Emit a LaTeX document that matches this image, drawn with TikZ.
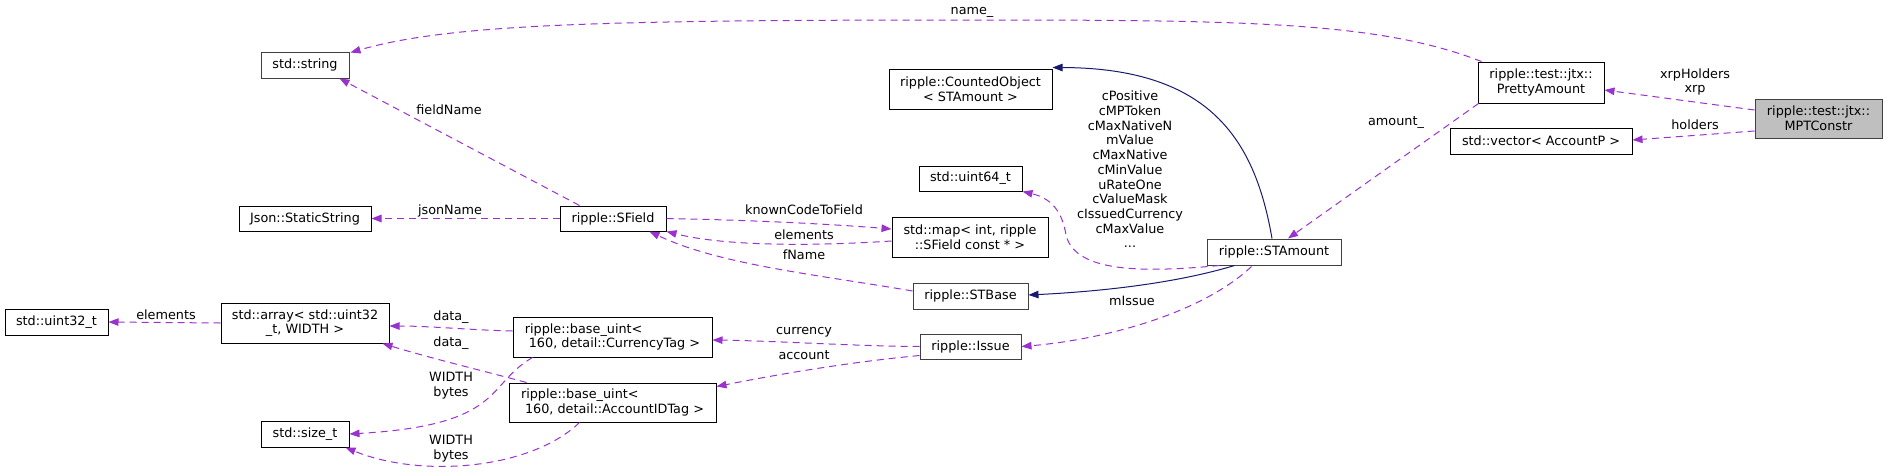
\documentclass[tikz,border=0pt]{standalone}
\usepackage{fontspec}
\setmainfont{DejaVu Sans}
\usetikzlibrary{arrows.meta,calc}
\definecolor{depc}{HTML}{9A32CD}
\definecolor{inhc}{HTML}{191970}
\definecolor{bdc}{HTML}{404040}
\definecolor{mainfill}{HTML}{BFBFBF}
\newcommand\dgfont{\fontsize{12.8}{14.7}\selectfont}
\begin{document}
\begin{tikzpicture}[x=1pt,y=-1pt,
  box/.style={draw=black,line width=1pt,fill=white,inner sep=0pt,align=center,font=\dgfont},
  gbox/.style={box,draw=bdc},
  lbl/.style={inner sep=0pt,align=center,font=\dgfont},
  dep/.style={draw=depc,line width=1pt,dash pattern=on 7pt off 5pt,-{Triangle[length=10pt,width=7.5pt]}},
  inh/.style={draw=inhc,line width=1pt,-{Triangle[length=10pt,width=7.5pt]}}]
\fill[white] (0,0) rectangle (1887,474);
\useasboundingbox (0,0) rectangle (1887,474);
% nodes
\node[gbox,fill=mainfill,minimum width=127,minimum height=39] (mpt) at (1818.5,118.5) {ripple::test::jtx::\\MPTConstr};
\node[box,minimum width=126,minimum height=41] (pretty) at (1541,82.5) {ripple::test::jtx::\\PrettyAmount};
\node[box,minimum width=182,minimum height=26] (vec) at (1541,141) {std::vector< AccountP >};
\node[gbox,minimum width=88,minimum height=26] (str) at (305,65) {std::string};
\node[box,minimum width=163,minimum height=40] (counted) at (970.5,89) {ripple::CountedObject\\< STAmount >};
\node[box,minimum width=103,minimum height=25] (u64) at (970.5,178.5) {std::uint64\_t};
\node[box,minimum width=132,minimum height=25] (json) at (305,218.5) {Json::StaticString};
\node[box,minimum width=106,minimum height=25] (sfield) at (613,218.5) {ripple::SField};
\node[box,minimum width=156,minimum height=40] (map) at (970,237) {std::map< int, ripple\\::SField const * >};
\node[gbox,minimum width=134,minimum height=26] (stamount) at (1274,252) {ripple::STAmount};
\node[gbox,minimum width=115,minimum height=26] (stbase) at (970.5,296) {ripple::STBase};
\node[gbox,minimum width=101,minimum height=25] (issue) at (970.5,346.5) {ripple::Issue};
\node[box,align=left,minimum width=199,minimum height=40] (cur) at (612.5,337) {ripple::base\_uint<\\\hspace*{4pt}160, detail::CurrencyTag >};
\node[box,align=left,minimum width=207,minimum height=39] (acc) at (612.5,402.5) {ripple::base\_uint<\\\hspace*{4pt}160, detail::AccountIDTag >};
\node[box,minimum width=168,minimum height=40] (arr) at (305,323) {std::array< std::uint32\\\_t, WIDTH >};
\node[box,minimum width=103,minimum height=26] (u32) at (56.5,322) {std::uint32\_t};
\node[box,minimum width=88,minimum height=26] (sizet) at (305,434) {std::size\_t};
% edges
\draw[dep] ($(mpt.west)+(0,-8.5)$) -- ($(pretty.east)+(0,7.5)$);
\draw[dep] ($(mpt.west)+(0,12.5)$) -- ($(vec.east)+(0,-1)$);
\draw[dep] ($(pretty.north west)+(4,0)$) .. controls (1380,22) and (1250,20) .. (972,20) .. controls (600,20) and (450,24) .. ($(str.north east)+(1,1)$);
\draw[dep] ($(pretty.south west)+(1,0)$) -- ($(stamount.north)+(14,0)$);
\draw[inh] ($(stamount.north)+(-2,0)$) .. controls (1255,140) and (1210,68) .. ($(counted.north east)+(0,-1)$);
\draw[dep] ($(stamount.south west)+(13,0)$) .. controls (1140,273) and (1075,272) .. (1066,235) .. controls (1062,210) and (1050,198) .. (u64.south east);
\draw[inh] ($(stamount.south west)+(28,0)$) .. controls (1170,285) and (1090,292) .. ($(stbase.east)+(0,-1)$);
\draw[dep] ($(stamount.south west)+(45,1)$) .. controls (1200,315) and (1100,340) .. (issue.east);
\draw[dep] ($(sfield.north west)+(20,0)$) -- ($(str.south east)+(-10,0)$);
\draw[dep] (sfield.west) -- (json.east);
\draw[dep] (sfield.east) .. controls (750,220) and (830,224) .. ($(map.west)+(0,-8)$);
\draw[dep] ($(map.west)+(0,4)$) .. controls (800,247) and (720,245) .. (sfield.south east);
\draw[dep] ($(stbase.west)+(0,-5)$) .. controls (820,275) and (720,265) .. ($(sfield.south east)+(-17,0)$);
\draw[dep] (issue.west) .. controls (850,346) and (780,341) .. ($(cur.east)+(0,3)$);
\draw[dep] ($(issue.west)+(0,9)$) .. controls (850,362) and (780,374) .. ($(acc.east)+(0,-16)$);
\draw[dep] ($(cur.west)+(0,-6)$) .. controls (470,330) and (430,326) .. ($(arr.east)+(0,3)$);
\draw[dep] ($(acc.north west)+(18,0)$) .. controls (480,370) and (430,358) .. ($(arr.south east)+(-7,0)$);
\draw[dep] ($(cur.south west)+(20,0)$) .. controls (485,385) and (505,425) .. (sizet.east);
\draw[dep] ($(acc.south west)+(71,0)$) .. controls (530,470) and (420,478) .. ($(sizet.south east)+(-4,0)$);
\draw[dep] (arr.west) -- (u32.east);
% labels
\node[lbl] (lxrp) at (1695,82) {xrpHolders\\xrp};
\node[lbl] (lhold) at (1695,125) {holders};
\node[lbl] (lname) at (972,12) {name\_};
\node[lbl] (lamount) at (1396,123) {amount\_};
\node[lbl] (lconst) at (1130,169.5) {cPositive\\cMPToken\\cMaxNativeN\\mValue\\cMaxNative\\cMinValue\\uRateOne\\cValueMask\\cIssuedCurrency\\cMaxValue\\...};
\node[lbl] (lmissue) at (1132,301) {mIssue};
\node[lbl] (lfield) at (449,110) {fieldName};
\node[lbl] (ljson) at (450,211) {jsonName};
\node[lbl] (lknown) at (804,210) {knownCodeToField};
\node[lbl] (lelem) at (804,235) {elements};
\node[lbl] (lfname) at (804,255) {fName};
\node[lbl] (lcur) at (804,332) {currency};
\node[lbl] (lacc) at (804,355) {account};
\node[lbl] (ldata1) at (451,317) {data\_};
\node[lbl] (ldata2) at (451,343) {data\_};
\node[lbl] (lw1) at (451,385.5) {WIDTH\\bytes};
\node[lbl] (lw2) at (451,448.5) {WIDTH\\bytes};
\node[lbl] (lelem2) at (166,315) {elements};
\end{tikzpicture}
\end{document}
